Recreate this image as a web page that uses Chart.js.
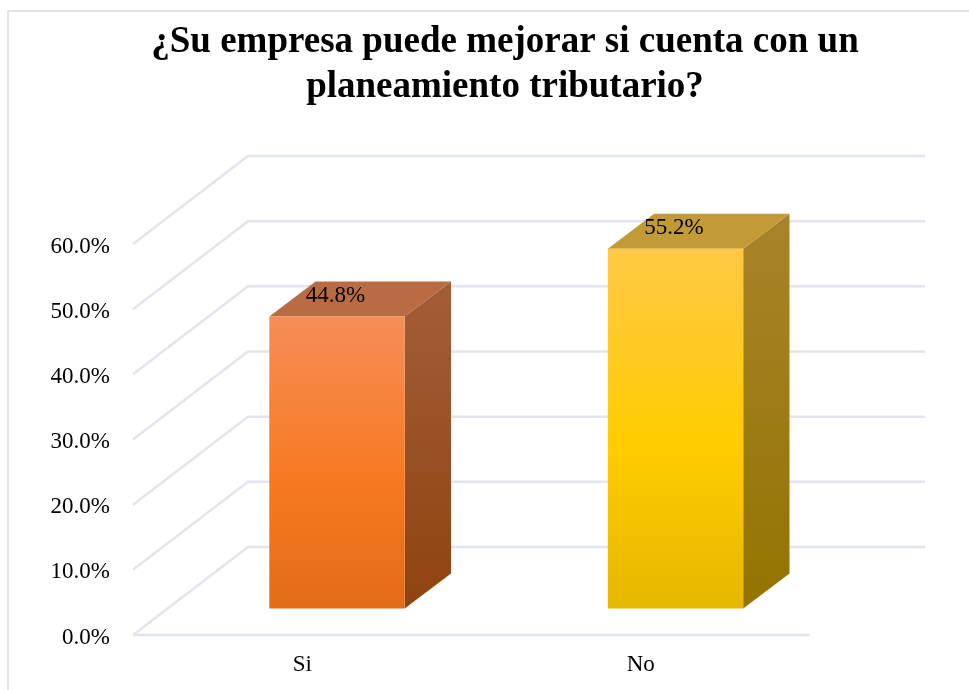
<!DOCTYPE html>
<html>
<head>
<meta charset="utf-8">
<style>
  html, body { margin: 0; padding: 0; background: #fff; overflow: hidden; }
  #wrap { width: 969px; height: 690px; }
</style>
<script src="https://cdn.jsdelivr.net/npm/chart.js@4/dist/chart.umd.min.js"></script>
</head>
<body>
<div id="wrap"><canvas id="grafico" width="969" height="690"></canvas></div>
<script>
const titleLines = ["¿Su empresa puede mejorar si cuenta con un", "planeamiento tributario?"];
const categories = ["Si", "No"];
const values = [44.8, 55.2];

const serif = "'Liberation Serif', 'Times New Roman', serif";
const gridColor = "#e2e5ed";
// colores de cada barra: frente (arriba, medio, abajo), tapa, lateral (arriba, abajo)
const barColors = [
  { front: ["#f68d58", "#f77a22", "#e46b17"], top: "#b96c43", side: ["#a35e38", "#8f430f"] },
  { front: ["#ffc947", "#ffcc00", "#e5b800"], top: "#c29a36", side: ["#a9832b", "#937400"] }
];
// desplazamientos del efecto 3D
const floorDepth = { x: 115, y: -88 };
const barShift = { x: 34.75, y: -26.5 };
const barDepth = { x: 46.3, y: -35 };

function polygon(ctx, pts, fill) {
  ctx.beginPath();
  pts.forEach((p, i) => (i ? ctx.lineTo(p[0], p[1]) : ctx.moveTo(p[0], p[1])));
  ctx.closePath();
  ctx.fillStyle = fill;
  ctx.fill();
}

const fake3d = {
  id: "fake3d",
  afterLayout(chart) {
    // el titulo va un poco a la derecha del centro
    chart.titleBlock.left = 41;
    chart.titleBlock.right = chart.width;
    // etiquetas del eje y un poco mas abajo que su linea
    chart.scales.y.getLabelItems().forEach(item => { item.textOffset += 2.5; });
  },
  beforeDraw(chart) {
    const ctx = chart.ctx;
    ctx.save();
    ctx.strokeStyle = "#e0e4ed";
    ctx.lineWidth = 2;
    ctx.strokeRect(8, 11, chart.width + 20, chart.height + 20);
    ctx.restore();
  },
  beforeDatasetsDraw(chart) {
    const ctx = chart.ctx;
    const x = chart.scales.x;
    const y = chart.scales.y;
    ctx.save();
    ctx.strokeStyle = gridColor;
    ctx.lineWidth = 2.5;
    ctx.lineJoin = "round";
    y.ticks.forEach(t => {
      const py = y.getPixelForValue(t.value);
      ctx.beginPath();
      ctx.moveTo(x.left, py);
      ctx.lineTo(x.left + floorDepth.x, py + floorDepth.y);
      ctx.lineTo(x.right + floorDepth.x, py + floorDepth.y);
      ctx.stroke();
    });
    ctx.beginPath();
    ctx.moveTo(x.left, y.bottom);
    ctx.lineTo(x.right, y.bottom);
    ctx.stroke();

    chart.getDatasetMeta(0).data.forEach((bar, i) => {
      const c = barColors[i];
      const l = bar.x - bar.width / 2 + barShift.x;
      const r = bar.x + bar.width / 2 + barShift.x;
      const t = bar.y + barShift.y;
      const b = bar.base + barShift.y;
      const grad = ctx.createLinearGradient(0, t + barDepth.y, 0, b);
      grad.addColorStop(0, c.side[0]);
      grad.addColorStop(1, c.side[1]);
      polygon(ctx, [[r, t], [r + barDepth.x, t + barDepth.y], [r + barDepth.x, b + barDepth.y], [r, b]], grad);
      polygon(ctx, [[l, t], [l + barDepth.x, t + barDepth.y], [r + barDepth.x, t + barDepth.y], [r, t]], c.top);
    });
    ctx.restore();
    // la barra real se dibuja corrida hacia el fondo del piso
    ctx.save();
    ctx.translate(barShift.x, barShift.y);
  },
  afterDatasetsDraw(chart) {
    const ctx = chart.ctx;
    ctx.restore();
    ctx.save();
    ctx.font = "23px " + serif;
    ctx.fillStyle = "#000";
    ctx.textAlign = "center";
    ctx.textBaseline = "middle";
    chart.getDatasetMeta(0).data.forEach((bar, i) => {
      ctx.fillText(values[i].toFixed(1) + "%", bar.x + barShift.x - 1.5, bar.y + barShift.y - 20.5);
    });
    ctx.restore();
  }
};

new Chart(document.getElementById("grafico"), {
  type: "bar",
  data: {
    labels: categories,
    datasets: [{
      data: values,
      barPercentage: 0.4,
      categoryPercentage: 1,
      clip: false,
      backgroundColor(c) {
        const stops = barColors[c.dataIndex].front;
        const y = c.chart.scales.y;
        const top = y ? y.getPixelForValue(values[c.dataIndex]) : NaN;
        const base = y ? y.getPixelForValue(0) : NaN;
        if (!Number.isFinite(top) || !Number.isFinite(base)) return stops[1];
        const g = c.chart.ctx.createLinearGradient(0, top, 0, base);
        g.addColorStop(0, stops[0]);
        g.addColorStop(0.55, stops[1]);
        g.addColorStop(1, stops[2]);
        return g;
      }
    }]
  },
  options: {
    responsive: false,
    animation: false,
    layout: { padding: { left: 0, right: 159, top: 0, bottom: 0 } },
    plugins: {
      legend: { display: false },
      tooltip: { enabled: false },
      title: {
        display: true,
        text: titleLines,
        color: "#000",
        font: { family: serif, size: 37, weight: "bold", lineHeight: 1.216 },
        padding: { top: 20, bottom: 134 }
      }
    },
    scales: {
      x: {
        grid: { display: false },
        border: { display: false },
        ticks: { color: "#000", font: { family: serif, size: 23 }, padding: 8, maxRotation: 0 },
        afterFit(s) { s.height = 55; }
      },
      y: {
        min: 0,
        max: 60,
        grid: { display: false, drawTicks: false },
        border: { display: false },
        ticks: {
          stepSize: 10,
          color: "#000",
          font: { family: serif, size: 23 },
          padding: 23,
          callback: v => v.toFixed(1) + "%"
        },
        afterFit(s) { s.width = 133; }
      }
    }
  },
  plugins: [fake3d]
});
</script>
</body>
</html>
